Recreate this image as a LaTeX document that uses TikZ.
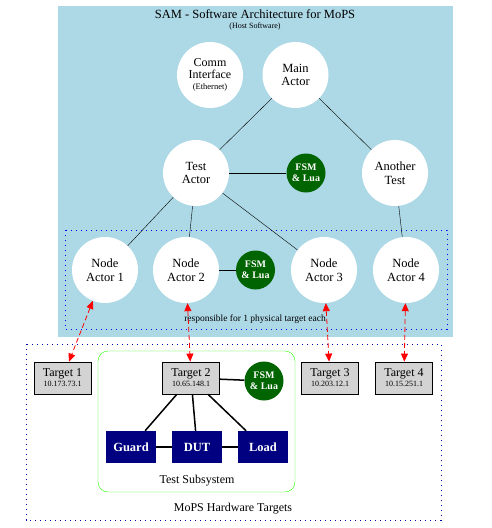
\documentclass[tikz,border=0pt]{standalone}
\usepackage{fontspec}
\setmainfont{Liberation Serif}
\usetikzlibrary{positioning,arrows.meta}

\definecolor{samblue}{RGB}{173,216,230}
\definecolor{fsmgreen}{RGB}{0,100,0}
\definecolor{hwnavy}{RGB}{0,0,128}
\definecolor{tgtgray}{RGB}{211,211,211}

\begin{document}
\begin{tikzpicture}[x=1pt, y=-1pt,
    actor/.style={circle, fill=white, minimum size=66pt, inner sep=0pt, align=center, font=\fontsize{12.5}{13.5}\selectfont},
    fsm/.style={circle, fill=fsmgreen, text=white, minimum size=39pt, inner sep=0pt, align=center, font=\fontsize{10}{11}\selectfont\bfseries},
    target/.style={draw, thick, fill=tgtgray, minimum width=57pt, minimum height=32pt, inner sep=0pt, align=center, font=\fontsize{12}{10}\selectfont},
    part/.style={fill=hwnavy, text=white, minimum width=50pt, minimum height=32pt, inner sep=0pt, font=\fontsize{12.5}{12.5}\selectfont\bfseries},
    cluster/.style={line width=1pt, dash pattern=on 1.2pt off 3.8pt},
    hwlink/.style={line width=1.5pt},
    comm/.style={red, thick, dash pattern=on 5pt off 3pt, {Triangle[length=8pt,width=7pt]}-{Triangle[length=8pt,width=7pt]}}]
    \useasboundingbox (0,0) rectangle (492,528);

    % Host software cluster
    \fill[samblue] (58,6) rectangle (453,337);
    \node[font=\fontsize{12.5}{13}\selectfont] (samtitle) at (255,14) {SAM - Software Architecture for MoPS};
    \node[font=\fontsize{8}{8}\selectfont] (samsub) at (255,26.5) {(Host Software)};
    \draw[blue, cluster] (65,230) rectangle (447,329);
    \node[font=\fontsize{9.5}{10}\selectfont] (resp) at (255,319) {responsible for 1 physical target each};

    % Actors
    \node[actor, font=\fontsize{12}{12.5}\selectfont] (comm) at (210,75) {Comm\\Interface\\[-1.5pt]{\fontsize{8.5}{8.5}\selectfont (Ethernet)}};
    \node[actor] (main) at (295.5,75) {Main\\Actor};
    \node[actor] (test) at (196,173) {Test\\Actor};
    \node[fsm] (fsmA) at (306,173) {FSM\\\& Lua};
    \node[actor] (other) at (395,173) {Another\\Test};
    \foreach \i/\x in {1/105, 2/186, 3/324, 4/406} {
        \node[actor] (na\i) at (\x,270) {Node\\Actor \i};
    }
    \node[fsm] (fsmB) at (255.5,270) {FSM\\\& Lua};

    % Actor edges
    \draw (main) -- (test); \draw (main) -- (other);
    \draw (test) -- (fsmA); \draw (na2) -- (fsmB);
    \foreach \i in {1,2,3} {
        \draw (test) -- (na\i);
    }
    \draw (other) -- (na4);

    % Hardware targets cluster
    \draw[blue!70!black, cluster] (26,344) rectangle (441,520);
    \node[font=\fontsize{12}{12}\selectfont] (hwlabel) at (233,509) {MoPS Hardware Targets};
    \draw[green!80!lime, rounded corners=10pt] (98,351) rectangle (295,492);
    \node[font=\fontsize{12}{12}\selectfont] (subsys) at (197,481) {Test Subsystem};

    \foreach \i/\x/\ip in {1/62.5/10.173.73.1, 2/191/10.65.148.1, 3/330/10.203.12.1, 4/404/10.15.251.1} {
        \node[target] (t\i) at (\x,378) {Target \i\\{\fontsize{8}{8}\selectfont \ip}};
    }
    \node[fsm] (fsmC) at (264,381) {FSM\\\& Lua};
    \node[part] (guard) at (131,447) {Guard};
    \node[part] (dut) at (197,447) {DUT};
    \node[part] (load) at (263,447) {Load};

    % Hardware edges
    \draw[hwlink] (t2) -- (fsmC);
    \draw[hwlink] (t2) -- (guard); \draw[hwlink] (t2) -- (dut); \draw[hwlink] (t2) -- (load);
    \draw[hwlink] (guard) -- (dut); \draw[hwlink] (dut) -- (load);

    % Links host <-> targets
    \foreach \i in {1,...,4} {
        \draw[comm] (na\i) -- (t\i);
    }
\end{tikzpicture}
\end{document}
